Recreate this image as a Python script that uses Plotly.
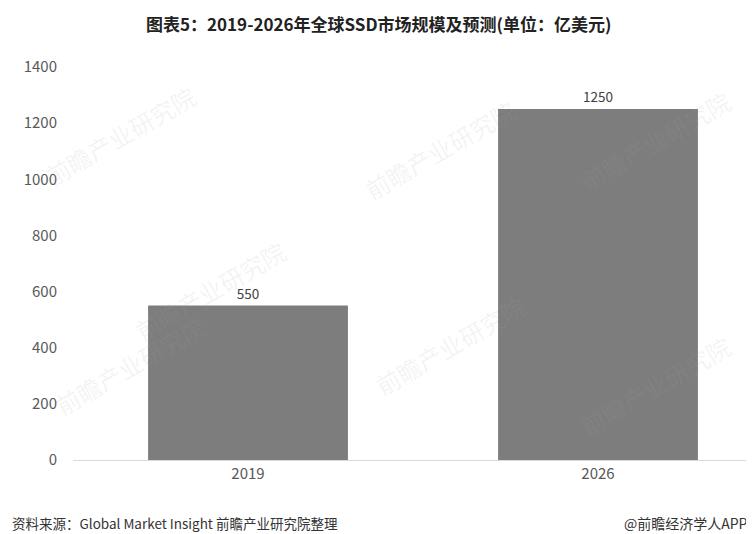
import plotly.graph_objects as go

categories = ["2019", "2026"]
values = [550, 1250]
y_ticks = [0, 200, 400, 600, 800, 1000, 1200, 1400]

title_text = "图表5：2019-2026年全球SSD市场规模及预测(单位：亿美元)"
source_text = "资料来源：Global Market Insight 前瞻产业研究院整理"
brand_text = "@前瞻经济学人APP"
watermark_text = "前瞻产业研究院"

FONT = "Noto Sans CJK SC, Noto Sans, sans-serif"

# page offset (browser body margin) compensation
OFF = 8
ML, MT, MR = 73 - OFF, 67 - OFF, OFF
PLOT_W = 754 - ML - MR
PLOT_BOTTOM = 460 - OFF
MB = 534 - PLOT_BOTTOM
PLOT_H = PLOT_BOTTOM - MT


def px(page_x):
    return (page_x - OFF - ML) / PLOT_W


def py(page_y):
    return (PLOT_BOTTOM - (page_y - OFF)) / PLOT_H


fig = go.Figure()
fig.add_trace(go.Bar(
    x=categories,
    y=values,
    marker=dict(color="#7d7d7d", line=dict(width=0)),
    width=0.571,
    text=[str(v) for v in values],
    textposition="outside",
    textfont=dict(family=FONT, size=13.5, color="#404040"),
    cliponaxis=False,
    hoverinfo="skip",
))

annotations = [
    dict(text="<b>" + title_text + "</b>", x=px(378), y=py(23), xref="paper", yref="paper",
         xanchor="center", yanchor="middle", showarrow=False,
         font=dict(family=FONT, size=17, color="#222222")),
    dict(text=source_text, x=px(10), y=py(523), xref="paper", yref="paper",
         xanchor="left", yanchor="middle", showarrow=False,
         font=dict(family=FONT, size=13.5, color="#333333")),
    dict(text=brand_text, x=px(750), y=py(523), xref="paper", yref="paper",
         xanchor="right", yanchor="middle", showarrow=False,
         font=dict(family=FONT, size=14, color="#333333")),
]

wm_positions = [(120, 135), (440, 150), (655, 140), (210, 290), (130, 365), (450, 345), (655, 385)]
for wx, wy in wm_positions:
    annotations.append(dict(text=watermark_text, x=px(wx), y=py(wy), xref="paper", yref="paper",
                            xanchor="center", yanchor="middle",
                            showarrow=False, textangle=-30,
                            font=dict(family=FONT, size=24, color="rgba(160,160,160,0.13)")))

fig.update_layout(
    width=754, height=534,
    margin=dict(l=ML, r=MR, t=MT, b=MB),
    paper_bgcolor="white", plot_bgcolor="white",
    showlegend=False,
    font=dict(family=FONT),
    annotations=annotations,
    xaxis=dict(range=[-0.5, -0.5 + PLOT_W / 350.0], showgrid=False, showline=True,
               linecolor="#d9d9d9", linewidth=1, ticks="",
               tickfont=dict(family=FONT, size=15, color="#595959")),
    yaxis=dict(range=[0, 1400], tickvals=y_ticks, showgrid=False, zeroline=False,
               showline=False, ticks="", ticklabelstandoff=15,
               tickfont=dict(family=FONT, size=15, color="#595959")),
)

fig.write_html("out.html")
